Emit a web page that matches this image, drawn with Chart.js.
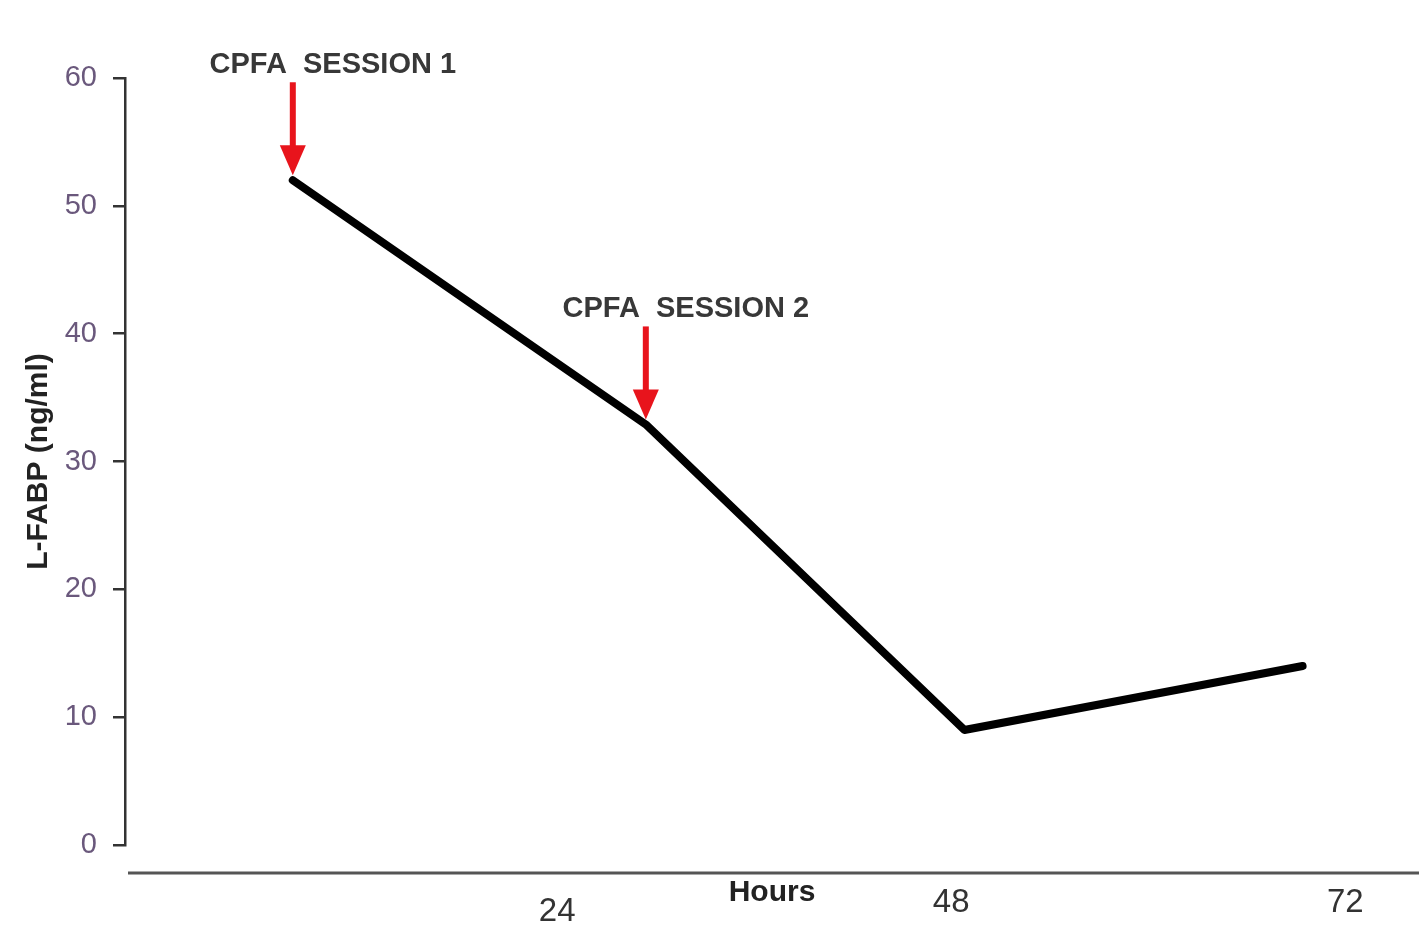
<!DOCTYPE html>
<html>
<head>
<meta charset="utf-8">
<script src="https://cdn.jsdelivr.net/npm/chart.js@4"></script>
<style>
  html,body{margin:0;padding:0;background:#fff;}
  #wrap{width:1419px;height:928px;}
</style>
</head>
<body>
<div id="wrap"><canvas id="chart" width="1419" height="928"></canvas></div>
<script>
// values
const hours = [7.9, 29.4, 48.8, 69.4];
const lfabp = [52, 32.9, 9, 14];
const hourTicks = [24, 48, 72];
const sessionText = ['CPFA  SESSION 1', 'CPFA  SESSION 2'];
const sessionPoint = [0, 1];

const narrow = '"Liberation Sans Narrow", "Liberation Sans", Arial, sans-serif';
const sans = '"Liberation Sans", Arial, sans-serif';

// separate x baseline, sits a little below y=0
const baseLine = {
  id: 'baseLine',
  afterDraw(chart){
    const {ctx, chartArea} = chart;
    ctx.save();
    ctx.strokeStyle = '#555'; ctx.lineWidth = 3;
    ctx.beginPath();
    ctx.moveTo(chartArea.left + 3, chartArea.bottom + 28);
    ctx.lineTo(chart.width, chartArea.bottom + 28);
    ctx.stroke();
    ctx.restore();
  }
};

// red arrows + session labels above the marked points
const sessions = {
  id: 'sessions',
  afterDatasetsDraw(chart){
    const {ctx, scales:{x, y}} = chart;
    sessionText.forEach((txt, i)=>{
      const k = sessionPoint[i];
      const px = x.getPixelForValue(hours[k]);
      const tip = y.getPixelForValue(lfabp[k]) - 5;
      ctx.save();
      ctx.fillStyle = '#e8141c';
      ctx.fillRect(px - 3, tip - 93, 6, 65);
      ctx.beginPath();
      ctx.moveTo(px - 13, tip - 30); ctx.lineTo(px + 13, tip - 30); ctx.lineTo(px, tip);
      ctx.closePath(); ctx.fill();
      ctx.font = 'bold 29px ' + sans;
      ctx.fillStyle = '#383838'; ctx.textAlign = 'center'; ctx.textBaseline = 'middle';
      ctx.fillText(txt, px + 40, tip - 110);
      ctx.restore();
    });
  }
};

new Chart(document.getElementById('chart'), {
  type: 'line',
  data: {
    datasets: [{
      data: hours.map((h, i)=>({x: h, y: lfabp[i]})),
      borderColor: '#000', borderWidth: 8,
      pointRadius: 0, tension: 0,
      borderJoinStyle: 'round', borderCapStyle: 'round'
    }]
  },
  options: {
    responsive: false, animation: false,
    layout: { padding: { top: 78, right: 0, left: 0, bottom: 0 } },
    plugins: { legend: { display: false }, tooltip: { enabled: false } },
    scales: {
      x: {
        type: 'linear', min: -2.32, max: 76.49,
        afterBuildTicks: (s)=>{ s.ticks = hourTicks.map(v=>({value: v})); },
        afterFit: (s)=>{ s.height = 83; },
        grid: { display: false, drawTicks: false },
        border: { display: false },
        ticks: {
          padding: 38, color: '#333',
          // the "24" label sits a bit lower in the original
          callback: (v)=> v === 24 ? ['', String(v)] : String(v),
          font: (c)=> ({ family: narrow, size: 33, lineHeight: (c.tick && c.tick.value === 24) ? '19.3px' : 1.2 })
        },
        title: { display: true, text: 'Hours', color: '#222',
          font: { family: narrow, size: 30, weight: 'bold' }, padding: { top: 0, bottom: 17 } }
      },
      y: {
        min: 0, max: 60,
        afterFit: (s)=>{ s.width = 125; },
        ticks: { stepSize: 10, padding: 16, color: '#6a587c', font: { family: narrow, size: 29 } },
        grid: { drawOnChartArea: false, drawTicks: true, tickLength: 12, color: '#333', lineWidth: 2.5 },
        border: { display: true, color: '#333', width: 2.5 },
        title: { display: true, text: 'L-FABP (ng/ml)', color: '#222',
          font: { family: sans, size: 30, weight: 'bold' }, padding: { top: 21, bottom: 0 } }
      }
    }
  },
  plugins: [baseLine, sessions]
});
</script>
</body>
</html>
